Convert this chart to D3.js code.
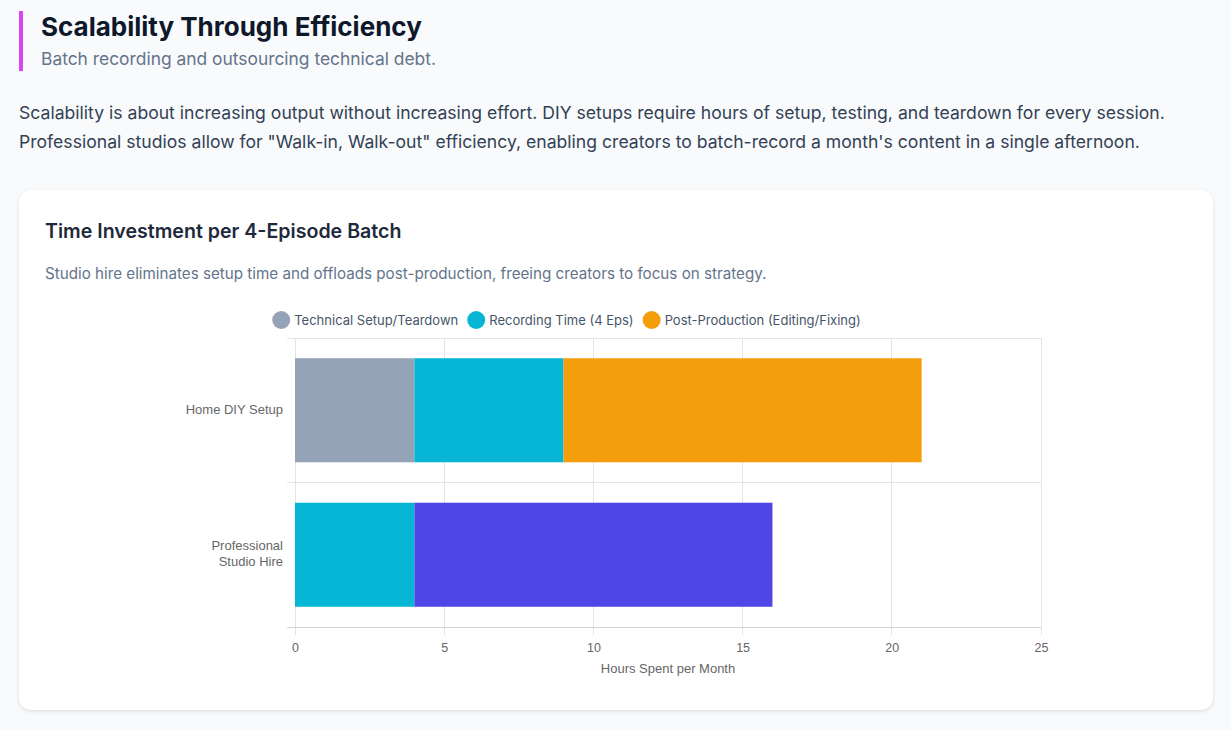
<!DOCTYPE html>
<html>
<head>
<meta charset="utf-8">
<script src="https://cdn.jsdelivr.net/npm/d3@7"></script>
<style>
  body { margin: 0; background: #f8fafc; font-family: Inter, "Noto Sans", sans-serif; width: 1231px; height: 730px; overflow: hidden; position: relative; }
  .head { position: absolute; left: 19px; top: 11px; height: 60px; border-left: 4px solid #d946ef; padding-left: 18px; }
  .head h1 { margin: 0; font-size: 26px; font-weight: 700; color: #0f172a; line-height: 32px; position: relative; top: 0px; }
  .head p { margin: 0; font-size: 17.4px; color: #64748b; line-height: 24px; position: relative; top: 4px; }
  .intro { position: absolute; left: 19px; top: 98px; width: 1200px; margin: 0; font-size: 17.6px; line-height: 29px; color: #334155; }
  .card { position: absolute; left: 19px; top: 190px; width: 1194px; height: 520px; background: #fff; border-radius: 12px; box-shadow: 0 1px 3px rgba(0,0,0,0.08), 0 2px 6px rgba(0,0,0,0.05); }
  .card h2 { position: absolute; left: 26px; top: 28px; margin: 0; font-size: 19.6px; font-weight: 600; color: #1e293b; line-height: 26px; }
  .card .sub { position: absolute; left: 26px; top: 73px; margin: 0; font-size: 15.2px; color: #64748b; line-height: 22px; }
  .card svg { position: absolute; left: 0; top: 0; }
</style>
</head>
<body>
<div class="head">
  <h1>Scalability Through Efficiency</h1>
  <p>Batch recording and outsourcing technical debt.</p>
</div>
<p class="intro">Scalability is about increasing output without increasing effort. DIY setups require hours of setup, testing, and teardown for every session. Professional studios allow for "Walk-in, Walk-out" efficiency, enabling creators to batch-record a month's content in a single afternoon.</p>
<div class="card">
  <h2>Time Investment per 4-Episode Batch</h2>
  <p class="sub">Studio hire eliminates setup time and offloads post-production, freeing creators to focus on strategy.</p>
  <svg id="chart" width="1194" height="520"></svg>
</div>
<script>
// categories (multi-line labels as arrays)
var categories = [["Home DIY Setup"], ["Professional", "Studio Hire"]];
var seriesNames = ["Technical Setup/Teardown", "Recording Time (4 Eps)", "Post-Production (Editing/Fixing)"];
var technical = [4, 0];
var recording = [5, 4];
var postProd = [12, 12];
var xTicks = [0, 5, 10, 15, 20, 25];
var xTitle = "Hours Spent per Month";

var legendColors = ["#94a3b8", "#06b6d4", "#f59e0b"];
// per-bar colours (studio post-production drawn in indigo)
var techColors = ["#94a3b8", "#94a3b8"];
var recColors = ["#06b6d4", "#06b6d4"];
var postColors = ["#f59e0b", "#4f46e5"];

var svg = d3.select("#chart");
var plotLeft = 276, plotRight = 1022, plotTop = 148, plotBottom = 437;

var x = d3.scaleLinear().domain([0, 25]).range([plotLeft, plotRight]);
var keys = categories.map(function(c) { return c.join(" "); });
var y = d3.scaleBand().domain(keys).range([plotTop, plotBottom]).paddingInner(0).paddingOuter(0);

var gridColor = "#e5e5e5";
var tickFont = "'Liberation Sans', Arial, sans-serif";

// vertical grid + tick marks
svg.append("g").selectAll("line").data(xTicks).join("line")
  .attr("x1", function(d) { return x(d); }).attr("x2", function(d) { return x(d); })
  .attr("y1", plotTop).attr("y2", plotBottom + 8)
  .attr("stroke", gridColor).attr("stroke-width", 1)
  .attr("shape-rendering", "crispEdges");

// horizontal grid at category boundaries
var hLines = keys.map(function(k) { return y(k); }).concat([plotBottom]);
svg.append("g").selectAll("line").data(hLines).join("line")
  .attr("x1", plotLeft - 8).attr("x2", plotRight)
  .attr("y1", function(d) { return d; }).attr("y2", function(d) { return d; })
  .attr("stroke", function(d, i) { return i === hLines.length - 1 ? "#d4d4d4" : gridColor; })
  .attr("stroke-width", 1)
  .attr("shape-rendering", "crispEdges");

// stacked bars
var stackData = keys.map(function(k, i) {
  return [
    { k: k, x0: 0, x1: technical[i], c: techColors[i] },
    { k: k, x0: technical[i], x1: technical[i] + recording[i], c: recColors[i] },
    { k: k, x0: technical[i] + recording[i], x1: technical[i] + recording[i] + postProd[i], c: postColors[i] }
  ];
}).flat().filter(function(d) { return d.x1 > d.x0; });

var barH = y.bandwidth() * 0.72;
svg.append("g").selectAll("rect").data(stackData).join("rect")
  .attr("x", function(d) { return x(d.x0); })
  .attr("width", function(d) { return x(d.x1) - x(d.x0); })
  .attr("y", function(d) { return y(d.k) + (y.bandwidth() - barH) / 2; })
  .attr("height", barH)
  .attr("fill", function(d) { return d.c; });

// x axis
var xAxis = d3.axisBottom(x).tickValues(xTicks).tickSize(0).tickPadding(0);
var gx = svg.append("g").attr("transform", "translate(0," + (plotBottom + 16) + ")").call(xAxis);
gx.select(".domain").remove();
gx.selectAll("text")
  .attr("dy", "0.71em")
  .attr("fill", "#666")
  .style("font-family", tickFont)
  .style("font-size", "12.5px");

svg.append("text")
  .attr("x", (plotLeft + plotRight) / 2).attr("y", plotBottom + 46)
  .attr("text-anchor", "middle")
  .attr("fill", "#666")
  .style("font-family", tickFont)
  .style("font-size", "13px")
  .text(xTitle);

// y axis labels
var yLab = svg.append("g").selectAll("text").data(categories).join("text")
  .attr("text-anchor", "end")
  .attr("fill", "#666")
  .style("font-family", tickFont)
  .style("font-size", "13px");
yLab.each(function(c, i) {
  var t = d3.select(this);
  var cy = y(keys[i]) + y.bandwidth() / 2;
  var lh = 16;
  c.forEach(function(line, j) {
    t.append("tspan")
      .attr("x", plotLeft - 12)
      .attr("y", cy + (j - (c.length - 1) / 2) * lh - 1)
      .attr("dy", "0.35em")
      .text(line);
  });
});

// legend
var legendCx = 547.5, legendCy = 130, r = 9;
var lg = svg.append("g");
var items = lg.selectAll("g").data(seriesNames).join("g");
items.append("circle").attr("r", r).attr("cy", legendCy)
  .attr("fill", function(d, i) { return legendColors[i]; });
items.append("text").attr("y", legendCy).attr("dy", "0.35em")
  .attr("fill", "#475569")
  .style("font-size", "13px")
  .text(function(d) { return d; });
var widths = [];
items.select("text").each(function() { widths.push(this.getComputedTextLength()); });
var total = d3.sum(widths, function(w) { return 2 * r + 4 + w; }) + 9 * (widths.length - 1);
var cur = legendCx - total / 2;
items.each(function(d, i) {
  var g = d3.select(this);
  g.select("circle").attr("cx", cur + r);
  g.select("text").attr("x", cur + 2 * r + 4);
  cur += 2 * r + 4 + widths[i] + 9;
});
</script>
</body>
</html>
